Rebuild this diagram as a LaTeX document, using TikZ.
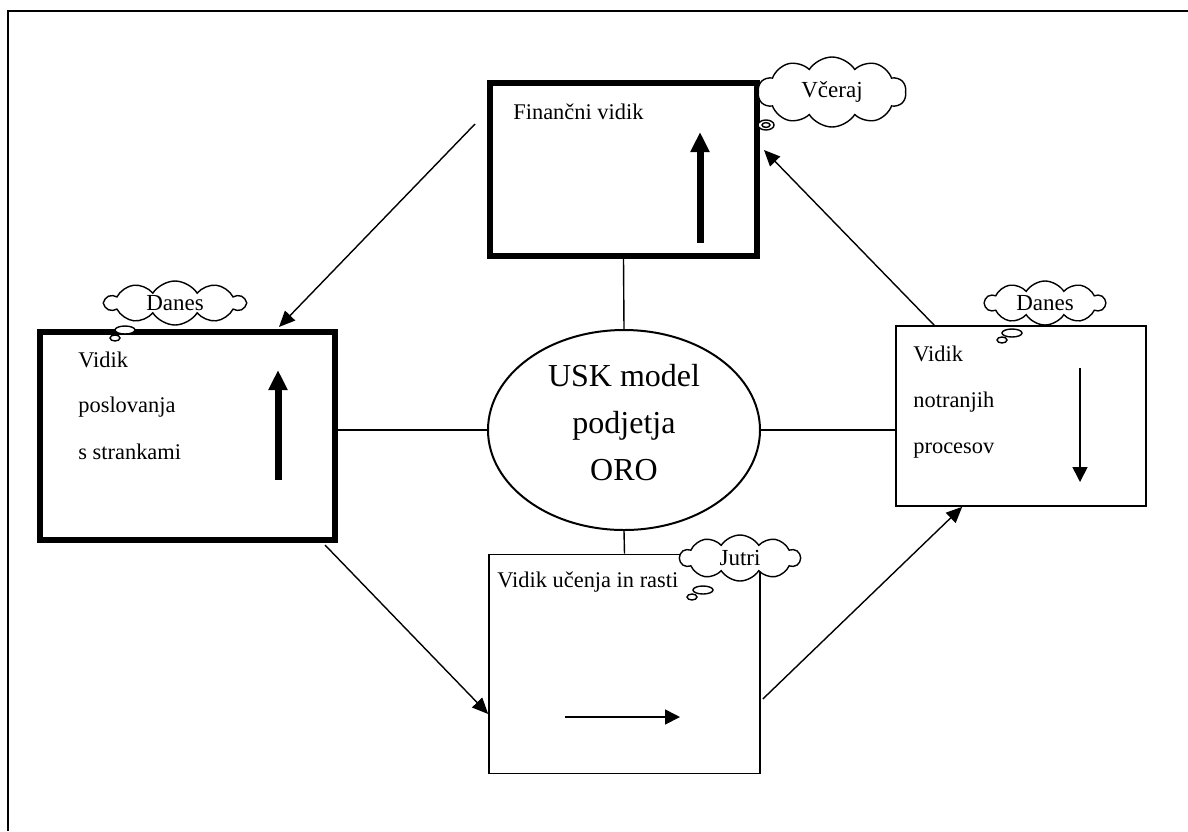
\documentclass[tikz,border=0pt]{standalone}
\usepackage{fontspec}
\setmainfont{Liberation Serif}
\usetikzlibrary{shapes.geometric, shapes.symbols, arrows.meta, positioning, calc}
\tikzset{
  boxthick/.style  = {rectangle, draw=black, line width=3pt, inner sep=0pt},
  boxthin/.style   = {rectangle, draw=black, line width=0.8pt, inner sep=0pt},
  core/.style      = {ellipse, draw=black, line width=1pt, minimum width=136pt,
                      minimum height=100pt, inner sep=0pt},
  coretxt/.style   = {align=center, inner sep=0pt, font=\fontsize{16}{23.5}\selectfont},
  txt/.style       = {anchor=base west, inner sep=0pt, font=\fontsize{11.2}{13}\selectfont},
  thought/.style   = {cloud, cloud puffs=10, cloud puff arc=115, aspect=3, draw=black,
                      fill=white, line width=0.7pt, inner sep=0pt,
                      font=\fontsize{11.5}{13}\selectfont},
  bubble/.style    = {draw=black, fill=white, line width=0.7pt},
  fl/.style        = {-{Triangle[length=8pt, width=7pt]}, draw=black, line width=0.7pt},
  trend/.style     = {-{Triangle[length=10pt, width=9pt]}, draw=black, line width=3.5pt},
  trendthin/.style = {-{Triangle[length=7.5pt, width=7.5pt]}, draw=black, line width=0.8pt},
  link/.style      = {draw=black, line width=0.7pt},
}

\begin{document}
\begin{tikzpicture}[x=0.5pt, y=-0.5pt]
  \useasboundingbox (0,0) rectangle (1188,831);
  \coordinate (frameTL) at (8,11);
  \coordinate (frameTR) at (1188,11);
  \coordinate (frameBL) at (8,831);
  \draw[line width=1.3pt] (frameTR) -- (frameTL) -- (frameBL);

  \node[boxthick, minimum width=133.5pt, minimum height=86.5pt] (fin) at (623.5,169.5) {};
  \node[boxthick, minimum width=147.5pt, minimum height=104pt] (cust) at (187.5,436) {};
  \node[boxthin, minimum width=125pt, minimum height=90pt] (proc) at (1021,416) {};
  \node[boxthin, minimum width=135.5pt, minimum height=109.5pt] (learn) at (624.5,664) {};
  \node[core] (usk) at (624,430) {};
  \node[coretxt] (uskT) at (624,423) {USK model\\podjetja\\ORO};

  \node[txt] (finT) at (513,119) {Finančni vidik};
  \node[txt] (custA) at (78,367) {Vidik};
  \node[txt] (custB) at (78,412) {poslovanja};
  \node[txt] (custC) at (78,459) {s strankami};
  \node[txt] (procA) at (913,361) {Vidik};
  \node[txt] (procB) at (913,407) {notranjih};
  \node[txt] (procC) at (913,453) {procesov};
  \node[txt] (learnT) at (497,587) {Vidik učenja in rasti};

  \draw[link] (fin.south) -- (usk.north);
  \draw[link] (usk.west -| cust.east) -- (usk.west);
  \draw[link] (usk.east) -- (usk.east -| proc.west);
  \draw[link] (usk.south) -- (learn.north);

  \node[thought, minimum width=74pt, minimum height=35pt] (yday) at (832,92) {Včeraj};
  \node[thought, minimum width=70pt, minimum height=22pt] (todayL) at (175,303) {Danes};
  \node[thought, minimum width=60pt, minimum height=22pt] (todayR) at (1045,303) {Danes};
  \node[thought, minimum width=60pt, minimum height=23pt] (tmrw) at (740,558) {Jutri};

  \draw[bubble] (766,125) ellipse [x radius=4pt, y radius=2.5pt];
  \draw[bubble] (766,125) ellipse [x radius=2pt, y radius=1.2pt];
  \draw[bubble] (125,330) ellipse [x radius=5pt, y radius=2pt];
  \draw[bubble] (115,338) ellipse [x radius=2.5pt, y radius=1.5pt];
  \draw[bubble] (1012,333) ellipse [x radius=5pt, y radius=2pt];
  \draw[bubble] (1002,340) ellipse [x radius=2.5pt, y radius=1.5pt];
  \draw[bubble] (703,590) ellipse [x radius=5pt, y radius=2pt];
  \draw[bubble] (692,597) ellipse [x radius=2.5pt, y radius=1.5pt];

  \coordinate (a1s) at ($(fin.north west)+(-12,44)$);
  \coordinate (a1e) at ($(cust.north west)+(242,-2)$);
  \coordinate (a2s) at ($(cust.south east)+(-13,2)$);
  \coordinate (a2e) at ($(learn.west)+(0,50)$);
  \coordinate (a3s) at ($(learn.east)+(2,35)$);
  \coordinate (a3e) at ($(proc.south west)+(67,0)$);
  \coordinate (a4s) at ($(proc.north west)+(39,0)$);
  \coordinate (a4e) at ($(fin.north east)+(4,70)$);
  \draw[fl] (a1s) -- (a1e);
  \draw[fl] (a2s) -- (a2e);
  \draw[fl] (a3s) -- (a3e);
  \draw[fl] (a4s) -- (a4e);

  \coordinate (finLo) at (700,243);
  \coordinate (finHi) at (700,132);
  \coordinate (custLo) at (278,480);
  \coordinate (custHi) at (278,370);
  \coordinate (procHi) at (1080,368);
  \coordinate (procLo) at (1080,482);
  \coordinate (learnL) at (565,717);
  \coordinate (learnR) at (680,717);
  \draw[trend] (finLo) -- (finHi);
  \draw[trend] (custLo) -- (custHi);
  \draw[trendthin] (procHi) -- (procLo);
  \draw[trendthin] (learnL) -- (learnR);
\end{tikzpicture}
\end{document}
